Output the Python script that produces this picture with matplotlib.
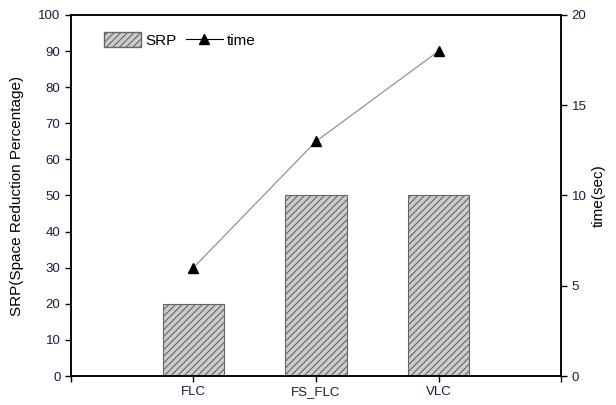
import matplotlib.pyplot as plt
import numpy as np
from matplotlib.lines import Line2D
from matplotlib.patches import Patch

plt.rcParams['font.family'] = ['Liberation Sans', 'DejaVu Sans']
plt.rcParams['hatch.color'] = '#555555'
plt.rcParams['hatch.linewidth'] = 0.8

categories = ['FLC', 'FS_FLC', 'VLC']
srp = [20, 50, 50]
time_sec = [6, 13, 18]

x = np.arange(1, len(categories) + 1)

fig = plt.figure(figsize=(6.16, 4.05), dpi=100)
ax = fig.add_axes([0.115, 0.0716, 0.796, 0.8914])
ax2 = ax.twinx()

ax.bar(x, srp, width=0.5, color='#cccccc', edgecolor='#666666',
       hatch='/////', linewidth=0.8)
ax2.plot(x, time_sec, color='#888888', linewidth=0.8, marker='^',
         markersize=6.5, markerfacecolor='black', markeredgecolor='black')

ax.set_xlim(0, 4)
ax.set_ylim(0, 100)
ax2.set_ylim(0, 20)
ax.set_xticks(np.arange(0, 5))
ax.set_xticklabels([''] + categories + [''])
ax.set_yticks(np.arange(0, 101, 10))
ax2.set_yticks(np.arange(0, 21, 5))

for a in (ax, ax2):
    a.tick_params(direction='out', length=4, width=1, labelsize=9.5,
                  colors='black', labelcolor='#1a1a40')
    for s in a.spines.values():
        s.set_linewidth(1.1)

ax.set_ylabel('SRP(Space Reduction Percentage)', fontsize=11, labelpad=10)
ax2.set_ylabel('time(sec)', fontsize=11)

handles = [Patch(facecolor='#cccccc', edgecolor='#666666', hatch='/////'),
           Line2D([], [], color='black', linewidth=0.8, marker='^',
                  markersize=6.5, markerfacecolor='black')]
ax.legend(handles, ['SRP', 'time'], loc='upper left', ncol=2, frameon=False,
          fontsize=11, bbox_to_anchor=(0.04, 0.99), handlelength=2.4,
          handleheight=1.1, columnspacing=0.6, handletextpad=0.3)

fig.savefig('out.png', dpi=100)
